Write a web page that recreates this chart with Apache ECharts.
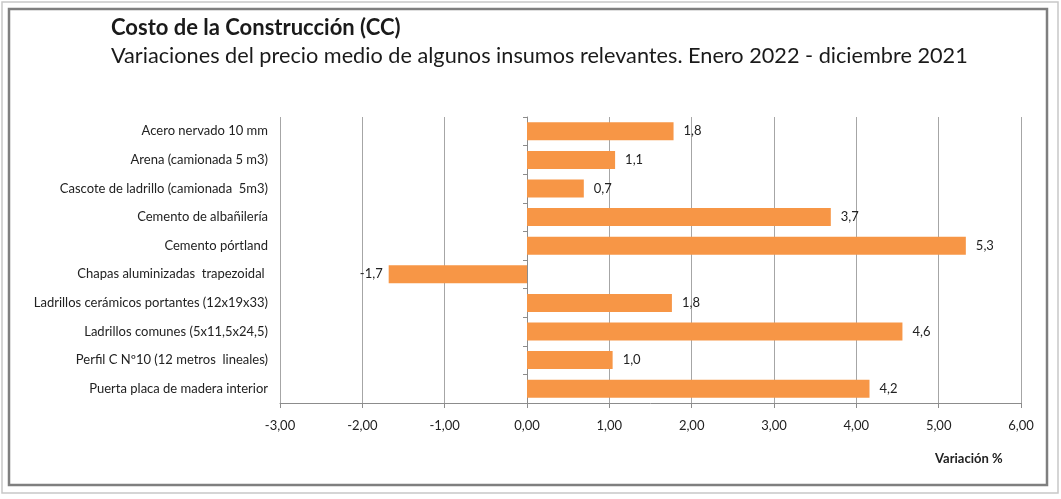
<!DOCTYPE html>
<html><head><meta charset="utf-8">
<script src="https://cdn.jsdelivr.net/npm/echarts@6/dist/echarts.min.js"></script>
<style>html,body{margin:0;padding:0;background:#fff}#c{width:1061px;height:499px}</style>
</head><body><div id="c"></div>
<script>
const categories = [
  'Acero nervado 10 mm',
  'Arena (camionada 5 m3)',
  'Cascote de ladrillo (camionada  5m3)',
  'Cemento de albañilería',
  'Cemento pórtland',
  'Chapas aluminizadas  trapezoidal ',
  'Ladrillos cerámicos portantes (12x19x33)',
  'Ladrillos comunes (5x11,5x24,5)',
  'Perfil C Nº10 (12 metros  lineales)',
  'Puerta placa de madera interior'
];
const values = [1.78, 1.07, 0.69, 3.69, 5.33, -1.68, 1.76, 4.56, 1.04, 4.16];
const xTicks = [-3, -2, -1, 0, 1, 2, 3, 4, 5, 6];
const titleText = 'Costo de la Construcción (CC)';
const subtitleText = 'Variaciones del precio medio de algunos insumos relevantes. Enero 2022 - diciembre 2021';
const axisName = 'Variación %';

const FONT = 'Lato';
const chart = echarts.init(document.getElementById('c'), null, {renderer: 'canvas'});
const fmt = v => v.toFixed(1).replace('.', ',');
chart.setOption({
  animation: false,
  textStyle: {fontFamily: FONT},
  grid: {left: 280, right: 40, top: 117, bottom: 96},
  xAxis: {
    type: 'value', min: xTicks[0], max: xTicks[xTicks.length - 1], interval: 1,
    axisLine: {show: true, onZero: false, lineStyle: {color: '#8c8c8c', width: 1}},
    axisTick: {show: true, length: 5, lineStyle: {color: '#8c8c8c'}},
    splitLine: {show: true, lineStyle: {color: '#a6a6a6', width: 1}},
    axisLabel: {color: '#222', fontSize: 13, fontFamily: FONT, margin: 16,
      formatter: v => v.toFixed(2).replace('.', ',')}
  },
  yAxis: [{
    type: 'category', data: categories, inverse: true,
    axisLine: {show: false, onZero: false},
    axisTick: {show: false},
    axisLabel: {color: '#222', fontSize: 13, fontFamily: FONT, margin: 12}
  }, {
    type: 'category', data: categories, inverse: true, position: 'left',
    axisLine: {show: true, onZero: true, lineStyle: {color: '#8c8c8c'}},
    axisTick: {show: true, length: 4, lineStyle: {color: '#8c8c8c'}},
    axisLabel: {show: false}
  }],
  series: [{
    type: 'bar', yAxisIndex: 0, barCategoryGap: '37%',
    data: values.map(v => v < 0 ? {value: v, label: {position: 'left', distance: 6}} : v),
    itemStyle: {color: '#f79646'},
    label: {
      show: true, color: '#222', fontSize: 13, fontFamily: FONT, distance: 10,
      position: 'right',
      formatter: p => fmt(p.value)
    }
  }],
  graphic: [
    {type: 'rect', shape: {x: 2, y: 2, width: 1056, height: 491}, style: {fill: 'none', stroke: '#c8c8c8', lineWidth: 1.5}, silent: true},
    {type: 'rect', shape: {x: 9, y: 9, width: 1038, height: 476}, style: {fill: 'none', stroke: '#7f7f7f', lineWidth: 2.5}, silent: true},
    {type: 'text', left: 111, top: 17, style: {text: titleText, font: 'bold 22px ' + FONT, fill: '#1a1a1a'}},
    {type: 'text', left: 111, top: 45, style: {text: subtitleText, font: '21.7px ' + FONT, fill: '#1a1a1a'}},
    {type: 'text', left: 935, top: 452, style: {text: axisName, font: 'bold 13px ' + FONT, fill: '#222'}}
  ]
});
</script></body></html>
